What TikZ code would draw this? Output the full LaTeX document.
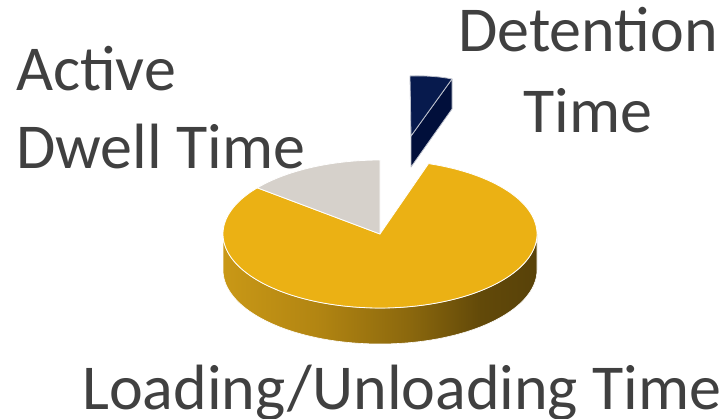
\documentclass[tikz,border=0pt]{standalone}
\usepackage{fontspec}
\setmainfont{Carlito}
\definecolor{txt}{HTML}{404040}
\definecolor{gold}{RGB}{235,177,20}
\definecolor{grayslice}{RGB}{214,209,203}
\definecolor{navytop}{RGB}{7,26,77}
\definecolor{navyside}{RGB}{1,15,59}
\definecolor{edgegray}{RGB}{190,194,205}
\definecolor{s1}{RGB}{201,152,22}
\definecolor{s2}{RGB}{178,133,18}
\definecolor{s3}{RGB}{138,103,13}
\definecolor{s4}{RGB}{98,73,9}
\definecolor{s5}{RGB}{88,66,9}
\pgfdeclarehorizontalshading{sideshade}{100bp}{color(0bp)=(s1); color(25bp)=(s1); color(40bp)=(s2); color(55bp)=(s3); color(66bp)=(s4); color(75bp)=(s5); color(100bp)=(s5)}
\tikzset{
  lbl/.style={text=txt, inner sep=0pt, font=\fontsize{64}{78}\selectfont},
  rim/.style={draw=white, line width=0.8pt, line join=round},
  navyedge/.style={draw=edgegray, line width=0.8pt, line join=round}
}
\begin{document}
\begin{tikzpicture}[x=1pt,y=-1pt]
\useasboundingbox (0,0) rectangle (728,418);
\def\cx{380}\def\cy{234}\def\rx{157}\def\ry{74}\def\dp{36}
\coordinate (C) at (\cx,\cy);
% side of the pie
\path[shading=sideshade, draw=white, line width=0.6pt]
  plot[domain=180:360, samples=80] ({\cx+\rx*cos(\x)},{\cy-\ry*sin(\x)})
  -- plot[domain=360:180, samples=80] ({\cx+\rx*cos(\x)},{\cy+\dp-\ry*sin(\x)}) -- cycle;
% yellow top
\path[fill=gold, rim] (C)
  -- plot[domain=141.4:432, samples=150] ({\cx+\rx*cos(\x)},{\cy-\ry*sin(\x)}) -- cycle;
% gray top
\path[fill=grayslice, rim] (C)
  -- plot[domain=90:141.4, samples=40] ({\cx+\rx*cos(\x)},{\cy-\ry*sin(\x)}) -- cycle;
% exploded detention slice
\coordinate (dA) at (411,136);
\coordinate (dT) at (410,76);
\coordinate (dR) at (452,79);
\coordinate (dRb) at (452,109);
\coordinate (dAb) at (411,167);
\path[fill=navyside, navyedge] (dA) -- (dR) -- (dRb) -- (dAb) -- cycle;
\path[fill=navytop, navyedge] (dA) -- (dT) .. controls (425,75.5) and (440,76.5) .. (dR) -- cycle;
% labels
\node[lbl, anchor=base west] (act1) at (16,90) {Active};
\node[lbl, anchor=base west] (act2) at (16,168) {Dwell Time};
\node[lbl, anchor=base] (det1) at (588,51) {Detention};
\node[lbl, anchor=base] (det2) at (588,132) {Time};
\node[lbl, anchor=base west] (load) at (82,409) {Loading/Unloading Time};
\end{tikzpicture}
\end{document}
